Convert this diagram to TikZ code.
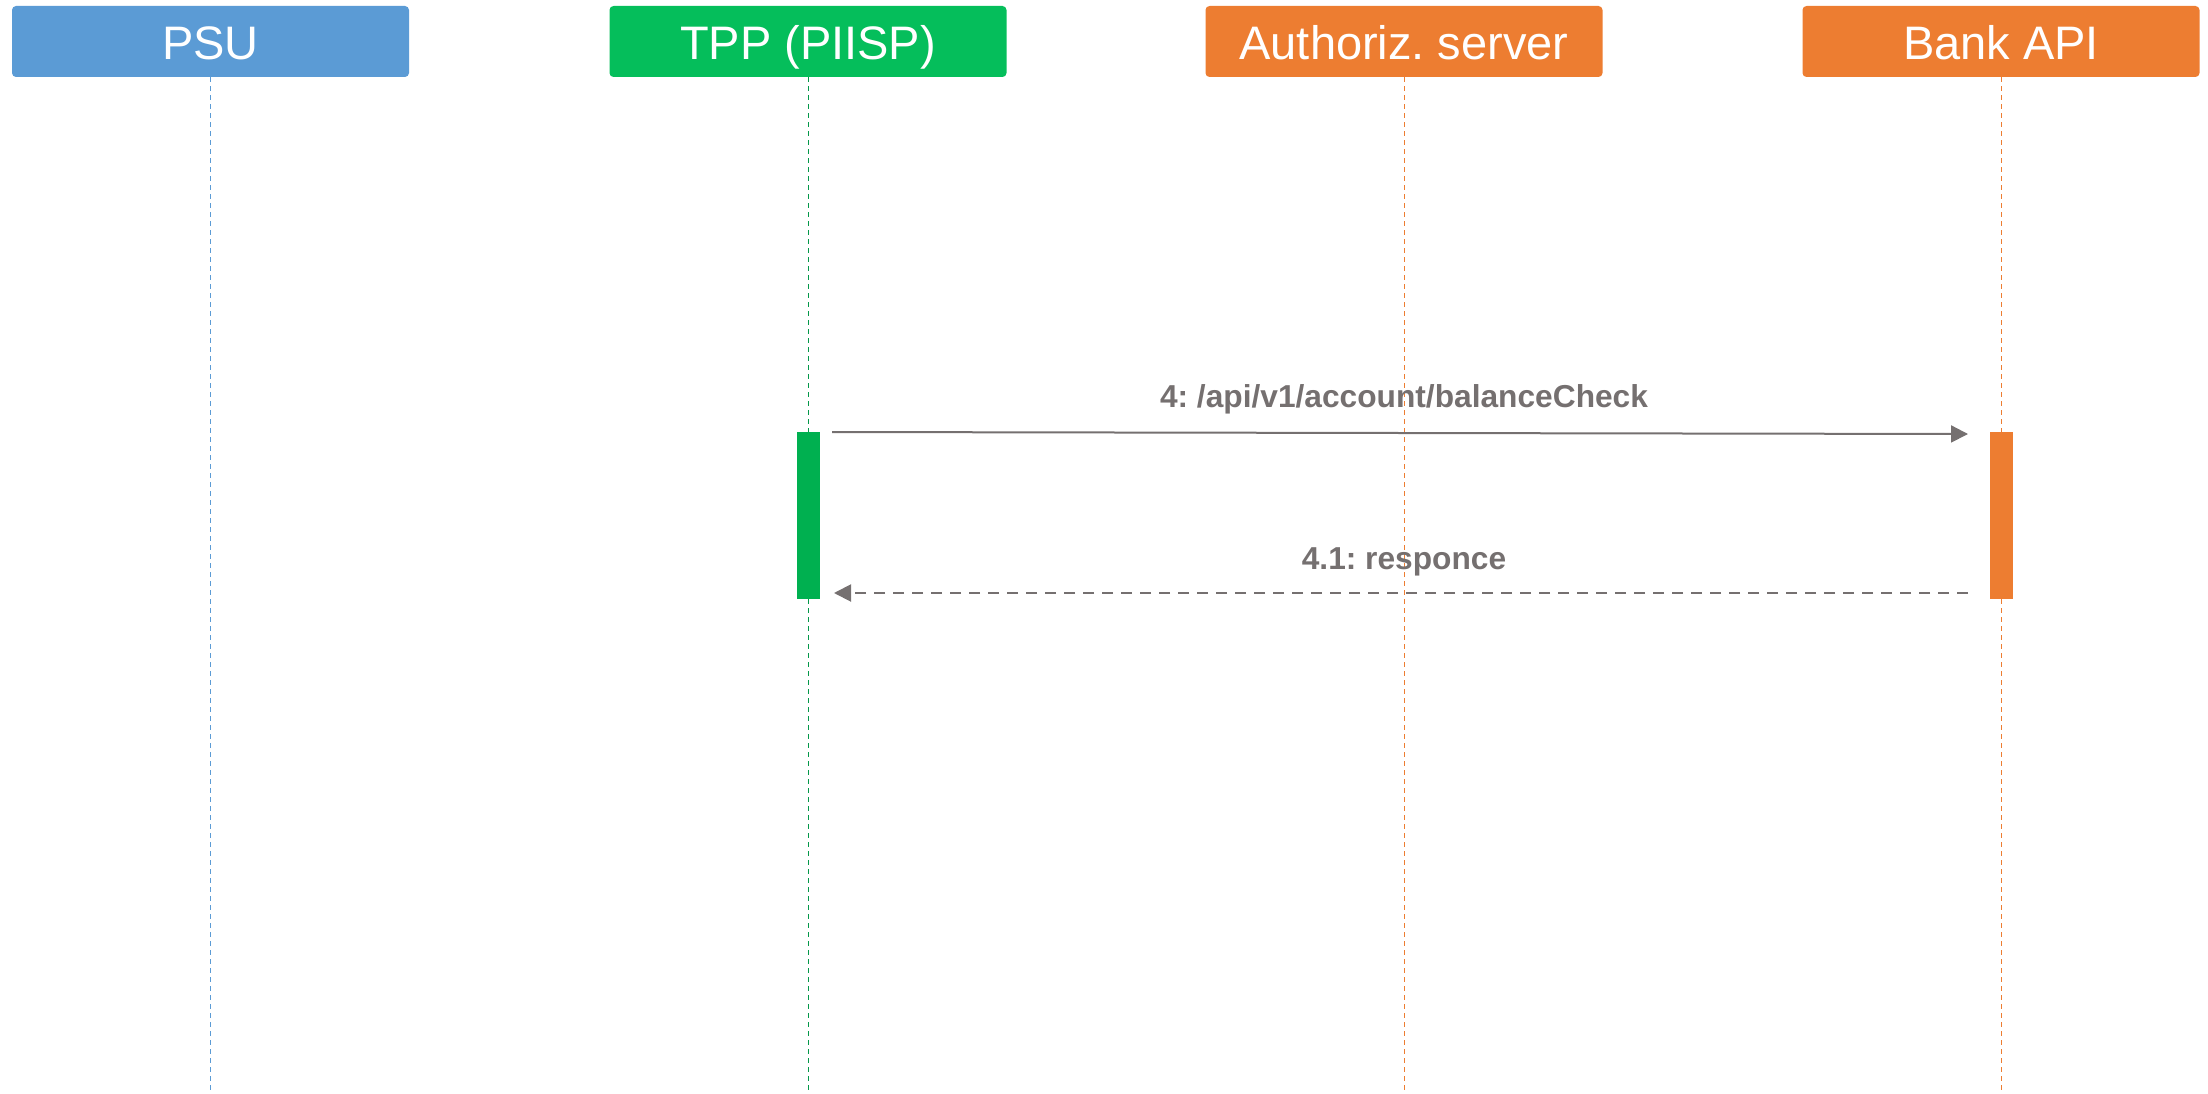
\documentclass[tikz,border=0pt]{standalone}
\usepackage{fontspec}
\setmainfont{Liberation Sans}
\usetikzlibrary{arrows.meta}
\frenchspacing
\definecolor{cblue}{HTML}{5B9BD5}
\definecolor{cgreen}{HTML}{05BE5B}
\definecolor{cgreenbar}{HTML}{00B050}
\definecolor{corange}{HTML}{ED7D31}
\definecolor{cgray}{HTML}{757070}
\begin{document}
\begin{tikzpicture}[x=1pt,y=-1pt,
  head/.style={minimum width=397pt,minimum height=71pt,rounded corners=4pt,inner sep=0pt,text=white,text height=37pt,text depth=0pt,font=\fontsize{47}{47}\selectfont},
  life/.style={line width=1pt,dash pattern=on 5pt off 4pt},
  actbar/.style={inner sep=0pt,minimum width=23pt,minimum height=167pt},
  msg/.style={draw=cgray,line width=2pt,-{Triangle[length=17pt,width=17pt]}},
  lbl/.style={text=cgray,font=\bfseries\fontsize{31.7}{32}\selectfont}]
\useasboundingbox (0,0) rectangle (2208,1094);
\node[head,fill=cblue] (psu) at (210.5,41.5) {PSU};
\node[head,fill=cgreen] (tpp) at (808,41.5) {TPP (PIISP)};
\node[head,fill=corange] (auth) at (1404,41.5) {Authoriz. server};
\node[head,fill=corange] (bank) at (2001,41.5) {Bank API};
\coordinate (psuEnd) at (210.5,1094);
\coordinate (tppEnd) at (808,1094);
\coordinate (authEnd) at (1404,1094);
\coordinate (bankEnd) at (2001,1094);
\draw[life,draw=cblue] (psu.south) -- (psuEnd);
\draw[life,draw=cgreen!80!black] (tpp.south) -- (tppEnd);
\draw[life,draw=corange] (auth.south) -- (authEnd);
\draw[life,draw=corange] (bank.south) -- (bankEnd);
\node[actbar,fill=cgreenbar] (tppact) at (808,515.5) {};
\node[actbar,fill=corange] (bankact) at (2001,515.5) {};
\coordinate (m1s) at (832,432);
\coordinate (m1e) at (1968,434);
\coordinate (m2s) at (1968,593);
\coordinate (m2e) at (834,593);
\draw[msg] (m1s) -- (m1e);
\draw[msg,dash pattern=on 11pt off 8pt] (m2s) -- (m2e);
\node[lbl] (l1) at (1404,399) {4: /api/v1/account/balanceCheck};
\node[lbl] (l2) at (1404,562) {4.1: responce};
\end{tikzpicture}
\end{document}
